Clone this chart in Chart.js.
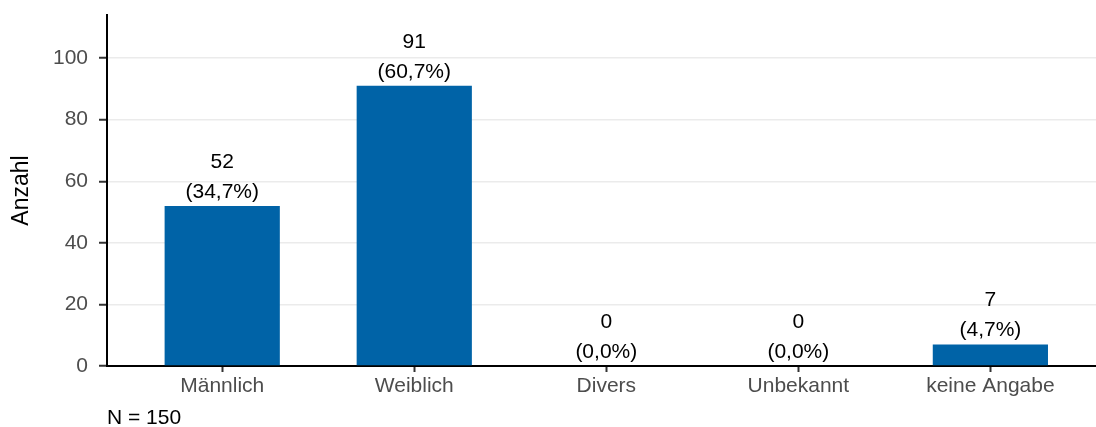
<!DOCTYPE html>
<html>
<head>
  <meta charset="UTF-8">
  <title>Anzahl</title>
  <script src="https://cdn.jsdelivr.net/npm/chart.js"></script>
  <style>
    body { margin: 0; background: #fff; }
  </style>
</head>
<body>
  <canvas id="chart" width="1096" height="427"></canvas>

  <script>
    const categories = ['Männlich', 'Weiblich', 'Divers', 'Unbekannt', 'keine Angabe'];
    const counts = [52, 91, 0, 0, 7];
    const total = 150;
    const yTicks = [0, 20, 40, 60, 80, 100];

    const font = "'Liberation Sans', Arial, sans-serif";

    function pctText(v) {
      return '(' + (v / total * 100).toFixed(1).replace('.', ',') + '%)';
    }

    // labels above bars + N footnote
    const labelPlugin = {
      id: 'barLabels',
      afterDatasetsDraw(chart) {
        const ctx = chart.ctx;
        const meta = chart.getDatasetMeta(0);
        ctx.save();
        ctx.fillStyle = '#000';
        ctx.font = '21px ' + font;
        ctx.textAlign = 'center';
        ctx.textBaseline = 'middle';
        meta.data.forEach((bar, i) => {
          ctx.fillText(String(counts[i]), bar.x, bar.y - 44);
          ctx.fillText(pctText(counts[i]), bar.x, bar.y - 14);
        });
        ctx.textAlign = 'left';
        ctx.fillText('N = ' + total, chart.chartArea.left, 418);
        ctx.restore();
      }
    };

    new Chart(document.getElementById('chart'), {
      type: 'bar',
      data: {
        datasets: [{
          data: counts.map((c, i) => ({ x: i + 1, y: c })),
          backgroundColor: '#0063A7',
          barPercentage: 0.6,
          categoryPercentage: 1
        }]
      },
      options: {
        responsive: false,
        animation: false,
        layout: { padding: { top: 15, left: 0, right: 0, bottom: 0 } },
        plugins: { legend: { display: false }, tooltip: { enabled: false } },
        scales: {
          x: {
            type: 'linear',
            min: 0.4,
            max: 5.55,
            offset: false,
            afterBuildTicks: s => { s.ticks = categories.map((c, i) => ({ value: i + 1 })); },
            afterFit: s => { s.height = 61; s.paddingLeft = 0; s.paddingRight = 0; },
            ticks: {
              callback: v => categories[v - 1],
              color: '#4d4d4d',
              font: { family: font, size: 21 },
              padding: 2,
              maxRotation: 0,
              autoSkip: false
            },
            grid: { offset: false, drawOnChartArea: false, drawTicks: true, tickLength: 6, tickColor: '#333', tickWidth: 2 },
            border: { display: true, color: '#000', width: 2 }
          },
          y: {
            min: 0,
            max: 114,
            afterBuildTicks: s => { s.ticks = yTicks.map(v => ({ value: v })); },
            afterFit: s => { s.width = 107; s.paddingTop = 0; s.paddingBottom = 0; },
            ticks: {
              color: '#4d4d4d',
              font: { family: font, size: 21 },
              padding: 11
            },
            grid: { color: '#ebebeb', lineWidth: 1.5, tickLength: 8, tickColor: '#333', tickWidth: 2 },
            border: { display: true, color: '#000', width: 2 },
            title: {
              display: true,
              text: 'Anzahl',
              color: '#000',
              font: { family: font, size: 23 },
              padding: { top: 8, bottom: 0 }
            }
          }
        }
      },
      plugins: [labelPlugin]
    });
  </script>
</body>
</html>
